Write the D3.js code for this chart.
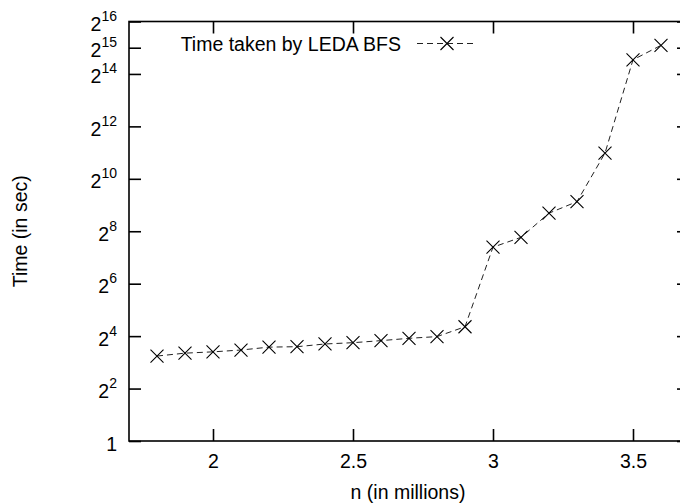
<!DOCTYPE html>
<html>
<head>
<meta charset="utf-8">
<script src="https://cdn.jsdelivr.net/npm/d3@7"></script>
<style>
  html, body { margin: 0; padding: 0; background: #fff; }
  svg { display: block; }
  text { font-family: "Liberation Sans", Arial, Helvetica, sans-serif; fill: #000; }
</style>
</head>
<body>
<script>
// ---- data ----
const nMillions = [1.8, 1.9, 2.0, 2.1, 2.2, 2.3, 2.4, 2.5, 2.6, 2.7, 2.8, 2.9, 3.0, 3.1, 3.2, 3.3, 3.4, 3.5, 3.6];
const timeSec   = [9.45, 10.2, 10.56, 11.08, 11.96, 12.1, 13.0, 13.45, 14.2, 15.1, 15.8, 20.5, 168, 218, 413, 560, 2020, 23800, 34900];
const xTickValues = [2, 2.5, 3, 3.5];
const xTickLabels = ["2", "2.5", "3", "3.5"];
const yTickExponents = [0, 2, 4, 6, 8, 10, 12, 14, 15, 16];
const seriesName = "Time taken by LEDA BFS";
const xTitle = "n (in millions)";
const yTitle = "Time (in sec)";

// ---- layout ----
const W = 680, H = 504;
const pLeft = 129, pRight = 689, pTop = 21.5, pBottom = 441;
const FS = 19.5, SUP = 14;

const svg = d3.select("body").append("svg").attr("width", W).attr("height", H);

const x = d3.scaleLinear().domain([1.7, 3.7]).range([pLeft, pRight]);
const y = d3.scaleLog().base(2).domain([1, 65536]).range([pBottom, pTop]);
const yTickValues = yTickExponents.map(e => Math.pow(2, e));

// frame
svg.append("rect").attr("x", pLeft).attr("y", pTop)
  .attr("width", pRight - pLeft).attr("height", pBottom - pTop)
  .attr("fill", "none").attr("stroke", "#000").attr("stroke-width", 1.6);

function styleAxis(g) {
  g.select(".domain").remove();
  g.selectAll(".tick line").attr("stroke", "#000").attr("stroke-width", 1.6);
  g.selectAll("text").style("font-size", FS + "px").attr("fill", "#000")
    .style("font-family", '"Liberation Sans", Arial, sans-serif');
}

// bottom axis
const gx = svg.append("g").attr("transform", `translate(0,${pBottom})`)
  .call(d3.axisBottom(x).tickValues(xTickValues)
    .tickFormat((d, i) => xTickLabels[i]).tickSizeInner(-12).tickSizeOuter(0).tickPadding(13));
styleAxis(gx);

// top axis (mirror ticks)
const gxt = svg.append("g").attr("transform", `translate(0,${pTop})`)
  .call(d3.axisTop(x).tickValues(xTickValues).tickFormat("").tickSizeInner(-12).tickSizeOuter(0));
styleAxis(gxt);

// left axis
const gy = svg.append("g").attr("transform", `translate(${pLeft},0)`)
  .call(d3.axisLeft(y).tickValues(yTickValues).tickFormat("").tickSizeInner(-12).tickSizeOuter(0).tickPadding(12));
styleAxis(gy);
gy.selectAll(".tick text").each(function(d, i) {
  const t = d3.select(this);
  const e = yTickExponents[i];
  t.text(null).attr("dy", null).attr("y", 9).attr("x", -12).attr("text-anchor", "end");
  if (e === 0) {
    t.append("tspan").text("1");
  } else {
    t.append("tspan").text("2");
    t.append("tspan").attr("dy", -10).style("font-size", SUP + "px").text(String(e));
  }
});

// right axis (mirror ticks)
const gyr = svg.append("g").attr("transform", `translate(${pRight},0)`)
  .call(d3.axisRight(y).tickValues(yTickValues).tickFormat("").tickSizeInner(-12).tickSizeOuter(0));
styleAxis(gyr);

// axis titles
svg.append("text").attr("x", (pLeft + pRight) / 2 - 1).attr("y", 499)
  .attr("text-anchor", "middle").style("font-size", FS + "px").text(xTitle);
svg.append("text").attr("transform", `translate(27,${(pTop + pBottom) / 2}) rotate(-90)`)
  .attr("text-anchor", "middle").style("font-size", FS + "px").text(yTitle);

// series line
const pts = nMillions.map((n, i) => [n, timeSec[i]]);
const line = d3.line().x(d => x(d[0])).y(d => y(d[1]));
svg.append("path").datum(pts).attr("d", line)
  .attr("fill", "none").attr("stroke", "#222").attr("stroke-width", 1)
  .attr("stroke-dasharray", "6,4");

// markers
const M = 6.5;
function cross(g, cx, cy) {
  g.append("path")
    .attr("d", `M${cx - M},${cy - M}L${cx + M},${cy + M}M${cx - M},${cy + M}L${cx + M},${cy - M}`)
    .attr("stroke", "#000").attr("stroke-width", 1.1).attr("fill", "none");
}
const gm = svg.append("g");
pts.forEach(d => cross(gm, x(d[0]), y(d[1])));

// legend
const ly = 43.5;
svg.append("text").attr("x", 401).attr("y", 51).attr("text-anchor", "end")
  .style("font-size", FS + "px").text(seriesName);
svg.append("line").attr("x1", 417).attr("x2", 477).attr("y1", ly).attr("y2", ly)
  .attr("stroke", "#222").attr("stroke-width", 1).attr("stroke-dasharray", "6,4");
cross(svg, 447, ly);
</script>
</body>
</html>
